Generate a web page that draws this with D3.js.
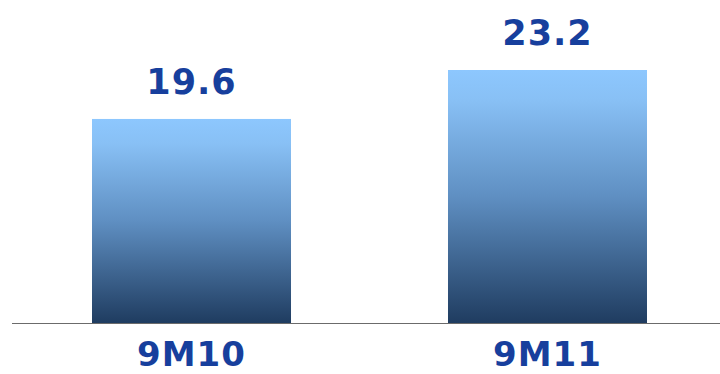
<!DOCTYPE html>
<html>
<head>
<meta charset="utf-8">
<script src="https://cdn.jsdelivr.net/npm/d3@7"></script>
<style>
  html, body { margin: 0; padding: 0; background: #ffffff; }
  svg { display: block; }
</style>
</head>
<body>
<svg id="chart" width="720" height="374"></svg>
<script>
// Period categories and their values
const categories = ["9M10", "9M11"];
const values = [19.6, 23.2];
const valueLabels = ["19.6", "23.2"];

const width = 720, height = 374;
const svg = d3.select("#chart");

const x = d3.scaleBand()
  .domain(categories)
  .range([20.8, 718.2])
  .paddingInner(0.441)
  .paddingOuter(0.2);

// Value axis starts above zero, so the baseline sits at 4.6
const y = d3.scaleLinear()
  .domain([4.6, 23.2])
  .range([323, 70]);

const defs = svg.append("defs");
const grad = defs.append("linearGradient")
  .attr("id", "barGrad")
  .attr("x1", 0).attr("y1", 0).attr("x2", 0).attr("y2", 1);
grad.append("stop").attr("offset", "0%").attr("stop-color", "#8dc7fe");
grad.append("stop").attr("offset", "12%").attr("stop-color", "#88c0f5");
grad.append("stop").attr("offset", "50%").attr("stop-color", "#5f8fc2");
grad.append("stop").attr("offset", "100%").attr("stop-color", "#1f3c60");

svg.selectAll("rect.bar")
  .data(values)
  .join("rect")
  .attr("class", "bar")
  .attr("x", (d, i) => x(categories[i]))
  .attr("width", x.bandwidth())
  .attr("y", d => y(d))
  .attr("height", d => y.range()[0] - y(d))
  .attr("fill", "url(#barGrad)");

// Baseline
svg.append("line")
  .attr("x1", 12).attr("x2", 720)
  .attr("y1", 323.5).attr("y2", 323.5)
  .attr("stroke", "#6b6b6b")
  .attr("stroke-width", 1.2);

const textColor = "#173f9d";

// Value labels above bars
svg.selectAll("text.value")
  .data(values)
  .join("text")
  .attr("class", "value")
  .attr("x", (d, i) => x(categories[i]) + x.bandwidth() / 2)
  .attr("y", d => y(d) - 25)
  .attr("text-anchor", "middle")
  .attr("font-family", "DejaVu Sans, Verdana, sans-serif")
  .attr("font-weight", "bold")
  .attr("font-size", 35)
  .attr("letter-spacing", 1)
  .attr("fill", textColor)
  .text((d, i) => valueLabels[i]);

// Category labels below baseline
svg.selectAll("text.cat")
  .data(categories)
  .join("text")
  .attr("class", "cat")
  .attr("x", d => x(d) + x.bandwidth() / 2)
  .attr("y", 365.5)
  .attr("text-anchor", "middle")
  .attr("font-family", "DejaVu Sans, Verdana, sans-serif")
  .attr("font-weight", "bold")
  .attr("font-size", 34)
  .attr("letter-spacing", 1)
  .attr("fill", textColor)
  .text(d => d);
</script>
</body>
</html>
